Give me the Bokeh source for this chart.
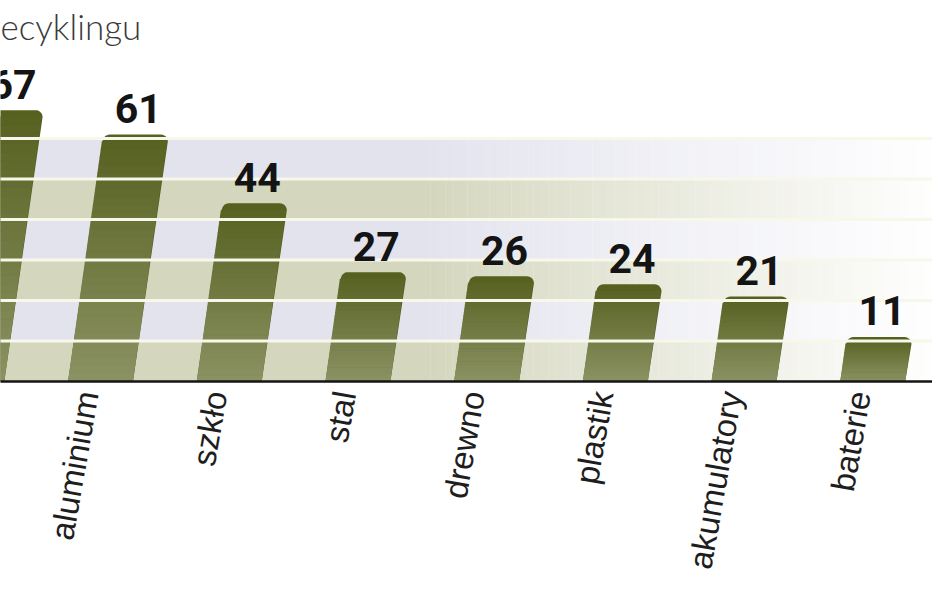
import numpy as np
from bokeh.plotting import figure
from bokeh.models import Range1d
from bokeh.core.properties import value
from bokeh.embed import file_html
from bokeh.resources import INLINE

# ---------------- data ----------------
categories = ["papier", "aluminium", "szkło", "stal", "drewno", "plastik", "akumulatory", "baterie"]
rates = [67, 61, 44, 27, 26, 24, 21, 11]
band_edges = [0, 10, 20, 30, 40, 50, 60]
title_text = "ecyklingu"

# ---------------- geometry / style ----------------
W, H = 932, 577
PX_X = 128.7      # pixels per category step
PX_Y = 4.05       # pixels per percentage point
X_FIRST = -28.7   # x of first category (bar bottom centre)
Y_BASE = 381      # y of the 0 line
x0 = (0 - X_FIRST) / PX_X
x1 = x0 + W / PX_X
y1 = Y_BASE / PX_Y
y0 = y1 - H / PX_Y

def px_to_x(X):
    return (X - X_FIRST) / PX_X

p = figure(width=W, height=H, x_range=Range1d(x0, x1), y_range=Range1d(y0, y1),
           output_backend="svg", toolbar_location=None, min_border=0,
           x_axis_location=None, y_axis_location=None)
p.grid.visible = False
p.outline_line_color = None
p.background_fill_color = "white"
p.border_fill_color = "white"

def hex2rgb(h):
    h = h.lstrip("#")
    return np.array([int(h[i:i + 2], 16) for i in (0, 2, 4)], dtype=float)

def rgb2hex(c):
    c = np.clip(np.round(c), 0, 255).astype(int)
    return "#%02x%02x%02x" % tuple(c)

# ---------------- background bands (fading to white on the right) ----------------
band_cols = ["#d4d6bd", "#e2e3ed"]
white = np.array([255.0, 255.0, 255.0])
fade_start, fade_end = 430, 945
n_strips = 70
edges_px = np.concatenate([[-40], np.linspace(fade_start, fade_end, n_strips + 1)])
qL, qR, qB, qT, qC = [], [], [], [], []
for k in range(len(band_edges) - 1):
    base = hex2rgb(band_cols[k % 2])
    for j in range(len(edges_px) - 1):
        a, b = edges_px[j], edges_px[j + 1]
        mid = 0.5 * (a + b)
        t = 0.0 if mid < fade_start else (mid - fade_start) / (fade_end - fade_start)
        t = min(max(t, 0.0), 1.0) ** 0.9
        col = base * (1 - t) + white * t
        qL.append(px_to_x(a)); qR.append(px_to_x(b) + 0.002)
        qB.append(band_edges[k]); qT.append(band_edges[k + 1])
        qC.append(rgb2hex(col))
p.quad(left=qL, right=qR, bottom=qB, top=qT, fill_color=qC, line_color=None)

# ---------------- slanted bars with rounded tops and vertical gradient ----------------
half_w = 32.5 / PX_X
slant = 0.141 * PX_Y / PX_X        # data-x shift per percentage point
rx, ry = 7 / PX_X, 7 / PX_Y
top_col = hex2rgb("#56601f")
bot_col = hex2rgb("#8b9263")

xs_all, ys_all, col_all = [], [], []
for i, v in enumerate(rates):
    c = float(i)
    xs, ys = [c - half_w, c + half_w], [0.0, 0.0]
    cx, cy = c + half_w + slant * v - rx, v - ry
    for ang in np.linspace(0, np.pi / 2, 8):
        xs.append(cx + rx * np.cos(ang)); ys.append(cy + ry * np.sin(ang))
    cx = c - half_w + slant * v + rx
    for ang in np.linspace(np.pi / 2, np.pi, 8):
        xs.append(cx + rx * np.cos(ang)); ys.append(cy + ry * np.sin(ang))
    xs_all.append(xs); ys_all.append(ys); col_all.append(rgb2hex(top_col))
    n = 30
    hs = np.linspace(0, v - ry, n + 1)
    for j in range(n):
        lo, hi = hs[j], hs[j + 1] + 0.15
        t = 1 - (0.5 * (hs[j] + hs[j + 1])) / v
        col = top_col * (1 - t) + bot_col * t
        xs_all.append([c - half_w + slant * lo, c + half_w + slant * lo,
                       c + half_w + slant * hi, c - half_w + slant * hi])
        ys_all.append([lo, lo, hi, hi])
        col_all.append(rgb2hex(col))
p.patches(xs=xs_all, ys=ys_all, fill_color=col_all, line_color=None)

# white separating lines across bands and bars (glyphs, so the labels stay on top)
line_levels = band_edges[1:]
p.segment(x0=[x0 - 1] * len(line_levels), x1=[x1 + 1] * len(line_levels),
          y0=line_levels, y1=line_levels, line_color="#f7f7ea", line_width=3)

# baseline
p.segment(x0=[x0 - 1], x1=[x1 + 1], y0=[0], y1=[0], line_color="#151515", line_width=2.5)

# ---------------- value labels ----------------
lab_x = [i + slant * v + 3 / PX_X for i, v in enumerate(rates)]
lab_y = [v + 26 / PX_Y for v in rates]
p.text(x=lab_x, y=lab_y, text=[str(v) for v in rates], text_align="center",
       text_baseline="middle",
       text_font=value("Roboto"), text_font_style="bold",
       text_font_size="41px", text_color="#141414")

# ---------------- category labels (rotated) ----------------
vis = [i for i in range(len(categories)) if i - 13 / PX_X > x0]
p.text(x=[i - 13 / PX_X for i in vis], y=[-10 / PX_Y] * len(vis),
       text=[categories[i] for i in vis],
       angle=80, angle_units="deg", text_align="right", text_baseline="middle",
       text_font=value("Liberation Sans"),
       text_font_size="33px", text_color="#1e1e1e")

# ---------------- title fragment ----------------
p.text(x=[x0], y=[(Y_BASE - 25) / PX_Y], text=[title_text], text_align="left",
       text_baseline="middle",
       text_font=value("Lato Light"), text_font_size="35px", text_color="#3a3a3a")

open("out.html", "w").write(file_html(p, INLINE))
